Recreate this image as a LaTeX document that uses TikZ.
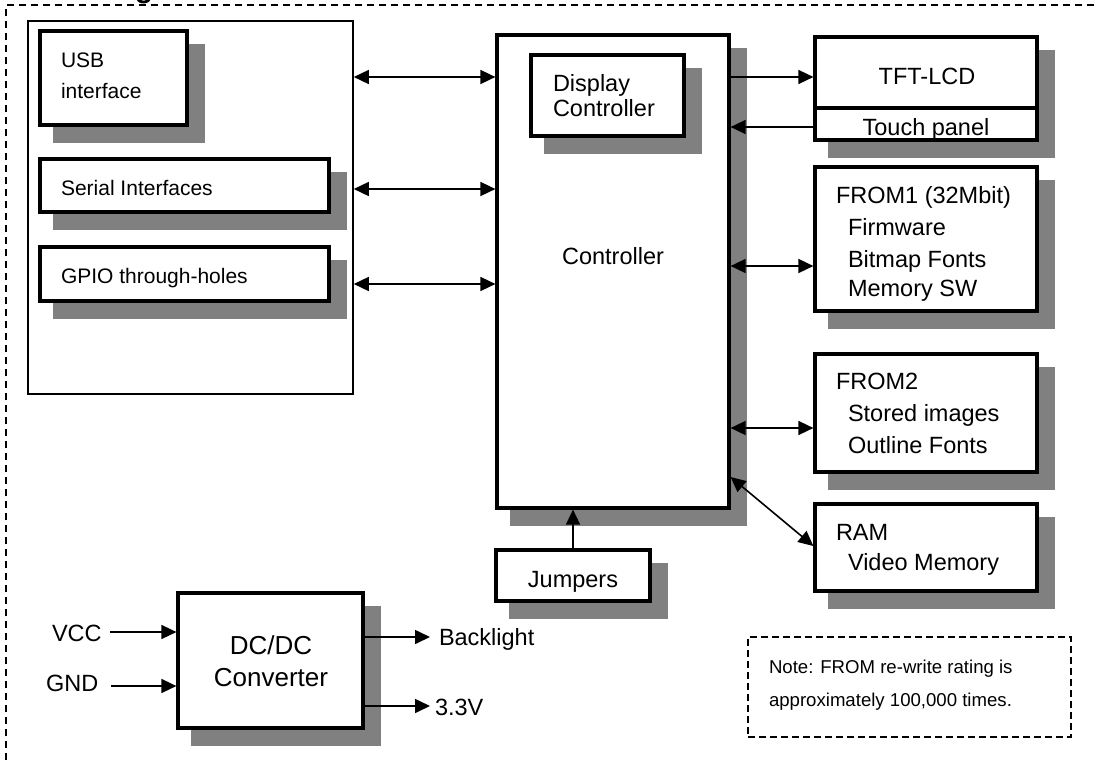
\documentclass[tikz,border=0pt]{standalone}
\usepackage{fontspec}
\setmainfont{Liberation Sans}
\usetikzlibrary{arrows.meta,calc}
\definecolor{shadowc}{HTML}{808080}
\tikzset{
  box/.style={draw=black, line width=3.2pt, fill=white, inner sep=0pt, outer sep=1.6pt, rectangle},
  grpbox/.style={draw=black, line width=1.6pt, inner sep=0pt, outer sep=0.8pt, rectangle},
  notebox/.style={draw=black, line width=1.5pt, dash pattern=on 7pt off 4pt, inner sep=0pt, rectangle},
  outerline/.style={draw=black, line width=1.6pt, dash pattern=on 7pt off 5pt},
  conn/.style={line width=1.6pt, -{Triangle[length=15pt,width=14pt]}},
  dconn/.style={line width=1.6pt, {Triangle[length=15pt,width=14pt]}-{Triangle[length=15pt,width=14pt]}},
  lbl/.style={inner sep=0pt, outer sep=0pt, anchor=base west},
  clbl/.style={inner sep=0pt, outer sep=0pt, anchor=base},
  fa/.style={font=\fontsize{21}{25}\selectfont},
  fb/.style={font=\fontsize{23.5}{27}\selectfont},
  fc/.style={font=\fontsize{26}{30}\selectfont},
  fn/.style={font=\fontsize{18.6}{22}\selectfont},
}
\newcommand\shbox[5]{%
  \pgfmathsetmacro\shW{#4-#2}\pgfmathsetmacro\shH{#5-#3}%
  \pgfmathsetmacro\shX{(#2+#4)/2}\pgfmathsetmacro\shY{(#3+#5)/2}%
  \fill[shadowc] ({#2+13},{#3+13}) rectangle ({#4+18},{#5+18});
  \node[box, minimum width=\shW pt, minimum height=\shH pt] (#1) at (\shX,\shY) {};}
\begin{document}
\begin{tikzpicture}[x=1pt,y=-1pt]
\useasboundingbox (0,0) rectangle (1094,760);
% outer dashed frame (partly off the page)
\draw[outerline] (6,760) -- (6,5) -- (1094,5);
\node[clbl, font=\bfseries\fontsize{30}{30}\selectfont] (ttl) at (144,-2) {g};
% left group
\node[grpbox, minimum width=325pt, minimum height=373pt] (grp) at (190.5,207.5) {};
\shbox{usb}{40}{31}{187}{125}
\shbox{ser}{40}{159}{329}{212}
\shbox{gpio}{40}{247}{329}{301}
% controller
\shbox{ctrl}{497}{35}{729}{508}
\shbox{disp}{531}{55}{684}{136}
% right side
\shbox{tft}{815}{37}{1037}{140}
\draw[line width=3.2pt] (tft.west |- 0,108) -- (tft.east |- 0,108);
\shbox{from1}{815}{167}{1037}{311}
\shbox{from2}{815}{354}{1037}{472}
\shbox{ram}{815}{504}{1037}{591}
% bottom
\shbox{jump}{496}{550}{650}{601}
\shbox{dc}{178}{593}{363}{728}
% note
\node[notebox, minimum width=323pt, minimum height=100pt] (note) at (909.5,687) {};
% connectors
\draw[dconn] (grp.east |- 0,77) -- (ctrl.west |- 0,77);
\draw[dconn] (grp.east |- 0,189) -- (ctrl.west |- 0,189);
\draw[dconn] (grp.east |- 0,284) -- (ctrl.west |- 0,284);
\draw[conn] (ctrl.east |- 0,77) -- (tft.west |- 0,77);
\draw[conn] (tft.west |- 0,127) -- (ctrl.east |- 0,127);
\draw[dconn] (ctrl.east |- 0,266) -- (from1.west |- 0,266);
\draw[dconn] (ctrl.east |- 0,428) -- (from2.west |- 0,428);
\draw[dconn] (ctrl.east |- 0,477) -- (ram.west |- 0,546);
\draw[conn] (jump.north) -- (ctrl.south -| jump.north);
\coordinate (vccS) at (110,632);
\coordinate (gndS) at (111,686);
\coordinate (blE) at (430,637);
\coordinate (vE) at (430,706);
\draw[conn] (vccS) -- (dc.west |- vccS);
\draw[conn] (gndS) -- (dc.west |- gndS);
\draw[conn] (dc.east |- blE) -- (blE);
\draw[conn] (dc.east |- vE) -- (vE);
% texts
\node[lbl, fa] (usbT1) at (61,67) {USB};
\node[lbl, fa] (usbT2) at (61,98) {interface};
\node[lbl, fa] (serT) at (61,195) {Serial Interfaces};
\node[lbl, fa] (gpioT) at (61,283) {GPIO through-holes};
\node[lbl, fb] (dispT1) at (553,91) {Display};
\node[lbl, fb] (dispT2) at (553,116) {Controller};
\node[clbl, fb] (ctrlT) at (613,264) {Controller};
\node[clbl, fb] (tftT) at (927,84) {TFT-LCD};
\node[clbl, fb] (touchT) at (926,135) {Touch panel};
\node[lbl, fb] (f1a) at (836,203) {FROM1 (32Mbit)};
\node[lbl, fb] (f1b) at (848,235) {Firmware};
\node[lbl, fb] (f1c) at (848,267) {Bitmap Fonts};
\node[lbl, fb] (f1d) at (848,296) {Memory SW};
\node[lbl, fb] (f2a) at (836,389) {FROM2};
\node[lbl, fb] (f2b) at (848,421) {Stored images};
\node[lbl, fb] (f2c) at (848,453) {Outline Fonts};
\node[lbl, fb] (ramA) at (836,540) {RAM};
\node[lbl, fb] (ramB) at (848,570) {Video Memory};
\node[clbl, fb] (jumpT) at (573,587) {Jumpers};
\node[clbl, fc] (dcT1) at (271,654) {DC/DC};
\node[clbl, fc] (dcT2) at (271,686) {Converter};
\node[lbl, fb] (vccT) at (52,641) {VCC};
\node[lbl, fb] (gndT) at (46,691) {GND};
\node[lbl, fb] (blT) at (439,645) {Backlight};
\node[lbl, fb] (vT) at (435,715) {3.3V};
\node[lbl, fn] (noteA) at (769,673) {Note: FROM re-write rating is};
\node[lbl, fn] (noteB) at (769,706) {approximately 100,000 times.};
\end{tikzpicture}
\end{document}
